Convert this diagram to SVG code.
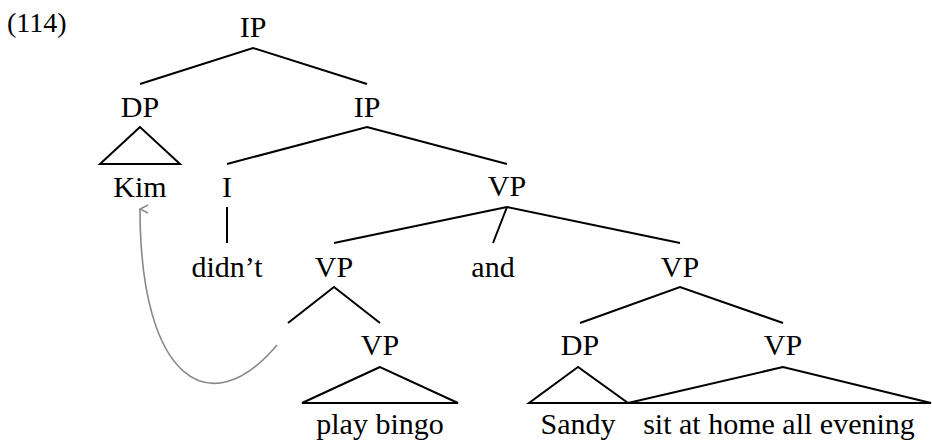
<svg xmlns="http://www.w3.org/2000/svg" width="932" height="445" viewBox="0 0 932 445">
  <defs>
    <style>
      text { font-family: "Liberation Serif", "DejaVu Serif", serif; font-size: 30px; fill: #000; text-anchor: middle; }
      .edge { stroke: #000; stroke-width: 2; fill: none; stroke-linejoin: miter; }
      .move { stroke: #888; stroke-width: 1.6; fill: none; }
    </style>
    <marker id="head" viewBox="0 0 10 10" refX="5" refY="1" markerWidth="10" markerHeight="10" markerUnits="userSpaceOnUse" orient="auto-start-reverse">
      <path d="M1,9 L5,1 L9,9" stroke="#888" stroke-width="1.4" fill="none"/>
    </marker>
  </defs>

  <text x="7" y="32" style="text-anchor:start;font-size:28px">(114)</text>

  <g id="connectors">
    <!-- IP root -->
    <polyline class="edge" points="140,84 253,48 367,84"/>
    <!-- DP triangle -->
    <polygon class="edge" points="140,127 100,164 180,164"/>
    <!-- IP -> I, VP -->
    <polyline class="edge" points="227,164 367,127 507,164"/>
    <!-- I -> didn't -->
    <line class="edge" x1="227" y1="207" x2="227" y2="243"/>
    <!-- coordinated VP -->
    <line class="edge" x1="334" y1="243" x2="507" y2="207"/>
    <line class="edge" x1="493" y1="243" x2="507" y2="207"/>
    <line class="edge" x1="680" y1="243" x2="507" y2="207"/>
    <!-- left VP -->
    <polyline class="edge" points="288,323 334,287 380,323"/>
    <polygon class="edge" points="380,367 302,403 458,403"/>
    <!-- right VP -->
    <polyline class="edge" points="580,323 680,287 783,323"/>
    <polygon class="edge" points="578,367 529,403 628,403"/>
    <polygon class="edge" points="783,367 628,403 931,403"/>
    <!-- movement arrow -->
    <path class="move" d="M277,345 C210,425 140,380 140,209" marker-end="url(#head)"/>
  </g>

  <g id="n-ip-root"><text x="253" y="37">IP</text></g>
  <g id="n-dp"><text x="140" y="117">DP</text></g>
  <g id="n-ip"><text x="367" y="117">IP</text></g>
  <g id="n-kim"><text x="140" y="197">Kim</text></g>
  <g id="n-i"><text x="227" y="197">I</text></g>
  <g id="n-vp-coord"><text x="507" y="196">VP</text></g>
  <g id="n-didnt"><text x="227" y="277">didn’t</text></g>
  <g id="n-vp-left"><text x="334" y="277">VP</text></g>
  <g id="n-and"><text x="493" y="277">and</text></g>
  <g id="n-vp-right"><text x="680" y="277">VP</text></g>
  <g id="n-vp-play"><text x="380" y="355">VP</text></g>
  <g id="n-dp-sandy"><text x="580" y="355">DP</text></g>
  <g id="n-vp-sit"><text x="783" y="355">VP</text></g>
  <g id="n-play"><text x="380" y="434">play bingo</text></g>
  <g id="n-sandy"><text x="578" y="434">Sandy</text></g>
  <g id="n-sit"><text x="779" y="434">sit at home all evening</text></g>
</svg>
